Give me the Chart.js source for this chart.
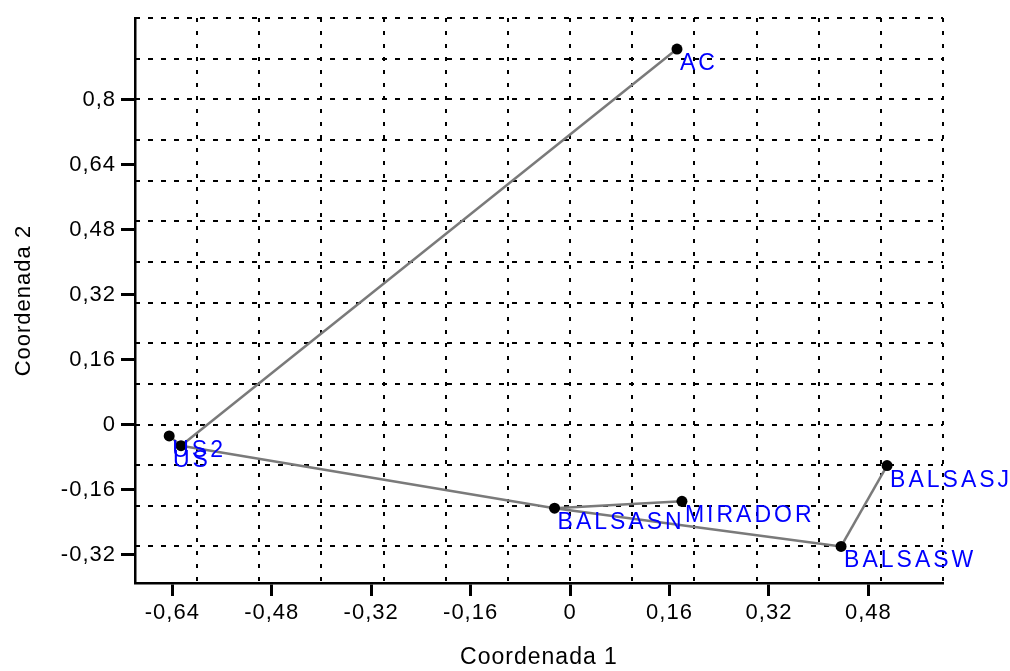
<!DOCTYPE html>
<html>
<head>
<meta charset="utf-8">
<script src="https://cdn.jsdelivr.net/npm/chart.js@4/dist/chart.umd.min.js"></script>
<style>
  html, body { margin: 0; padding: 0; background: #ffffff; }
  canvas { display: block; }
</style>
</head>
<body>
<canvas id="c" width="1010" height="671"></canvas>
<script>
// Sites placed by their scores on the first two coordinates
const sites  = ['AC', 'US2', 'US', 'BALSASN', 'MIRADOR', 'BALSASW', 'BALSASJ'];
const coord1 = [0.172, -0.645, -0.626, -0.025, 0.180, 0.436, 0.510];
const coord2 = [0.924, -0.028, -0.052, -0.206, -0.189, -0.300, -0.101];

// Links of the minimum spanning tree
const linkFrom = ['AC', 'US', 'US', 'BALSASN', 'BALSASN', 'BALSASW'];
const linkTo   = ['US', 'US2', 'BALSASN', 'MIRADOR', 'BALSASW', 'BALSASJ'];

// Labelled ticks (decimal comma)
const xTicks      = [-0.64, -0.48, -0.32, -0.16, 0, 0.16, 0.32, 0.48];
const xTickLabels = ['-0,64', '-0,48', '-0,32', '-0,16', '0', '0,16', '0,32', '0,48'];
const yTicks      = [-0.32, -0.16, 0, 0.16, 0.32, 0.48, 0.64, 0.8];
const yTickLabels = ['-0,32', '-0,16', '0', '0,16', '0,32', '0,48', '0,64', '0,8'];

const FONT = "'Liberation Sans', Arial, Helvetica, sans-serif";

const pointOf = name => {
  const i = sites.indexOf(name);
  return { x: coord1[i], y: coord2[i] };
};

const linkSets = linkFrom.map((a, k) => ({
  type: 'scatter',
  data: [pointOf(a), pointOf(linkTo[k])],
  showLine: true,
  borderColor: '#7a7a7a',
  borderWidth: 2.5,
  pointRadius: 0,
  order: 2
}));

const siteSet = {
  type: 'scatter',
  data: sites.map(pointOf),
  pointRadius: 5.5,
  pointBackgroundColor: '#000000',
  pointBorderWidth: 0,
  order: 1
};

// Wider tracking for all canvas text
const TRACK = '1px';
const tracking = {
  id: 'tracking',
  beforeUpdate(chart) { chart.ctx.letterSpacing = TRACK; },
  beforeLayout(chart) { chart.ctx.letterSpacing = TRACK; },
  beforeDraw(chart) { chart.ctx.letterSpacing = TRACK; }
};

// Site names written just below-right of each point
const siteLabels = {
  id: 'siteLabels',
  afterDatasetsDraw(chart, args, opts) {
    const { ctx } = chart;
    const sx = chart.scales.x, sy = chart.scales.y;
    ctx.save();
    ctx.font = opts.font;
    ctx.fillStyle = opts.color;
    ctx.letterSpacing = opts.spacing;
    ctx.textAlign = 'left';
    ctx.textBaseline = 'alphabetic';
    sites.forEach((s, i) => {
      const nx = opts.nudge[s] || 0;
      ctx.fillText(s,
        sx.getPixelForValue(coord1[i]) + opts.dx + nx,
        sy.getPixelForValue(coord2[i]) + opts.dy);
    });
    ctx.restore();
  }
};

new Chart(document.getElementById('c'), {
  data: { datasets: [...linkSets, siteSet] },
  plugins: [tracking, siteLabels],
  options: {
    responsive: false,
    animation: false,
    devicePixelRatio: 1,
    layout: { padding: { top: 15, right: 67, left: 0, bottom: 0 } },
    plugins: {
      legend: { display: false },
      tooltip: { enabled: false },
      siteLabels: {
        font: '23px ' + FONT,
        color: '#0000ff',
        spacing: '3px',
        dx: 3,
        dy: 21,
        nudge: { US: -11 }
      }
    },
    scales: {
      x: {
        type: 'linear',
        position: 'bottom',
        min: -0.7,
        max: 0.6,
        afterBuildTicks: s => { s.ticks = xTicks.map(v => ({ value: v })); },
        afterFit: s => { s.height = 88; },
        ticks: {
          callback: (v, i) => xTickLabels[i],
          autoSkip: false,
          maxRotation: 0,
          color: '#000000',
          padding: 4,
          font: { family: FONT, size: 22 }
        },
        grid: {
          drawOnChartArea: false,
          drawTicks: true,
          tickLength: 13,
          tickWidth: 3,
          tickColor: '#000000'
        },
        border: { display: true, color: '#000000', width: 2.5 },
        title: {
          display: true,
          text: 'Coordenada 1',
          color: '#000000',
          padding: { top: 0, bottom: 0 },
          font: { family: FONT, size: 23 }
        }
      },
      y: {
        type: 'linear',
        position: 'left',
        min: -0.39,
        max: 1.0,
        afterBuildTicks: s => { s.ticks = yTicks.map(v => ({ value: v })); },
        afterFit: s => { s.width = 135; },
        ticks: {
          callback: (v, i) => yTickLabels[i],
          autoSkip: false,
          color: '#000000',
          padding: 5,
          font: { family: FONT, size: 22 }
        },
        grid: {
          drawOnChartArea: false,
          drawTicks: true,
          tickLength: 14,
          tickWidth: 3,
          tickColor: '#000000'
        },
        border: { display: true, color: '#000000', width: 2.5 },
        title: {
          display: true,
          text: 'Coordenada 2',
          color: '#000000',
          padding: { top: 11, bottom: 0 },
          font: { family: FONT, size: 22 }
        }
      },
      // Reference grid every 0.1 units
      xGrid: {
        type: 'linear',
        axis: 'x',
        position: 'top',
        min: -0.7,
        max: 0.6,
        afterFit: s => { s.height = 0; },
        ticks: { display: false, stepSize: 0.1, includeBounds: false },
        grid: { drawTicks: false, color: '#000000', lineWidth: 2 },
        border: { display: false, dash: [4, 9] }
      },
      yGrid: {
        type: 'linear',
        axis: 'y',
        position: 'right',
        min: -0.39,
        max: 1.0,
        afterFit: s => { s.width = 0; },
        ticks: { display: false, stepSize: 0.1, includeBounds: false },
        grid: { drawTicks: false, color: '#000000', lineWidth: 2 },
        border: { display: false, dash: [5, 8] }
      }
    }
  }
});
</script>
</body>
</html>
